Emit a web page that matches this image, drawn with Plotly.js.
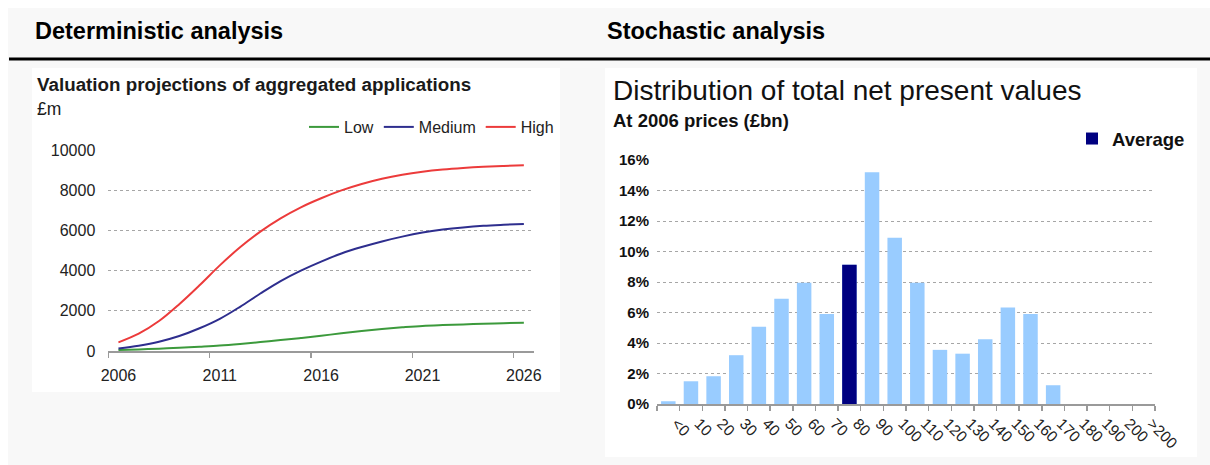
<!DOCTYPE html>
<html>
<head>
<meta charset="utf-8">
<script src="https://cdn.plot.ly/plotly-3.0.1.min.js"></script>
<style>
html, body { margin: 0; padding: 0; background: #ffffff; }
#chart { width: 1210px; height: 465px; }
</style>
</head>
<body>
<div id="chart"></div>
<script>
// ---------- data ----------
const years = [2006, 2007, 2008, 2009, 2010, 2011, 2012, 2013, 2014, 2015, 2016,
               2017, 2018, 2019, 2020, 2021, 2022, 2023, 2024, 2025, 2026];
const lowValues = [50, 80, 115, 165, 215, 270, 350, 445, 545, 645, 760,
                   880, 1000, 1100, 1180, 1250, 1290, 1320, 1355, 1385, 1400];
const mediumValues = [130, 265, 460, 745, 1130, 1600, 2200, 2860, 3480, 4000, 4450,
                      4850, 5170, 5450, 5690, 5890, 6040, 6150, 6230, 6280, 6320];
const highValues = [430, 860, 1490, 2330, 3270, 4260, 5160, 5940, 6600, 7150, 7600,
                    7990, 8310, 8570, 8770, 8920, 9030, 9110, 9170, 9210, 9240];
const yearTickValues = [2006, 2011, 2016, 2021, 2026];
const yearTickLabels = ['2006', '2011', '2016', '2021', '2026'];
const valueTickValues = [0, 2000, 4000, 6000, 8000, 10000];
const valueTickLabels = ['0', '2000', '4000', '6000', '8000', '10000'];

const npvCategories = ['<0', '10', '20', '30', '40', '50', '60', '70', '80', '90', '100',
                       '110', '120', '130', '140', '150', '160', '170', '180', '190', '200', '>200'];
const npvShares = [0.0018, 0.0149, 0.0182, 0.032, 0.0506, 0.069, 0.0795, 0.059, 0.0913, 0.152, 0.109,
                   0.0795, 0.0355, 0.033, 0.0425, 0.0633, 0.059, 0.0123, 0, 0, 0, 0];
const averageCategory = '80';
const shareTickValues = [0, 0.02, 0.04, 0.06, 0.08, 0.10, 0.12, 0.14, 0.16];

// ---------- helpers (pixel -> paper fraction) ----------
const W = 1210, H = 465;
const px = v => v / W;
const py = v => (H - v) / H;
const FONT = 'Arial, "Liberation Sans", sans-serif';

const avgIndex = npvCategories.indexOf(averageCategory);

const traces = [
  { type: 'scatter', mode: 'lines', name: 'Low', x: years, y: lowValues,
    line: { color: '#3c9a3c', width: 2, shape: 'spline' }, xaxis: 'x', yaxis: 'y', legend: 'legend' },
  { type: 'scatter', mode: 'lines', name: 'Medium', x: years, y: mediumValues,
    line: { color: '#2e2e8e', width: 2, shape: 'spline' }, xaxis: 'x', yaxis: 'y', legend: 'legend' },
  { type: 'scatter', mode: 'lines', name: 'High', x: years, y: highValues,
    line: { color: '#ec3b3b', width: 2, shape: 'spline' }, xaxis: 'x', yaxis: 'y', legend: 'legend' },
  { type: 'bar', name: 'Distribution', x: npvCategories, y: npvShares,
    marker: { color: '#99ccff' }, xaxis: 'x2', yaxis: 'y2', showlegend: false },
  { type: 'bar', name: 'Average', x: [averageCategory], y: [npvShares[avgIndex]],
    marker: { color: '#000080' }, xaxis: 'x2', yaxis: 'y2', legend: 'legend2' }
];

const gridStyle = { showgrid: true, gridcolor: '#a6a6a6', gridwidth: 1, griddash: 'dot' };

const layout = {
  width: W, height: H,
  margin: { l: 0, r: 0, t: 0, b: 0, pad: 0 },
  paper_bgcolor: '#ffffff',
  plot_bgcolor: 'rgba(0,0,0,0)',
  font: { family: FONT, color: '#000000' },
  barmode: 'overlay',
  bargap: 0.36,
  showlegend: true,
  xaxis: {
    domain: [px(108.3), px(534)],
    range: [2005.5, 2026.5],
    tickmode: 'array', tickvals: yearTickValues, ticktext: yearTickLabels,
    ticks: '', showgrid: false, zeroline: false,
    showline: true, linecolor: '#9a9a9a', linewidth: 1.5,
    minor: { tickmode: 'array', tickvals: [2005.5, 2010.5, 2015.5, 2020.5, 2025.5],
             ticks: 'outside', ticklen: 5, tickcolor: '#9a9a9a', tickwidth: 1.5, showgrid: false },
    tickfont: { size: 16, color: '#222222' },
    ticklabelstandoff: 9,
    anchor: 'y', fixedrange: true
  },
  yaxis: Object.assign({
    domain: [py(351), py(150)],
    range: [0, 10000],
    tickmode: 'array', tickvals: valueTickValues, ticktext: valueTickLabels,
    ticks: '', zeroline: false, showline: false,
    tickfont: { size: 16, color: '#222222' },
    ticklabelstandoff: 12,
    anchor: 'x', fixedrange: true
  }, gridStyle),
  xaxis2: {
    domain: [px(657), px(1155)],
    type: 'category',
    categoryorder: 'array', categoryarray: npvCategories,
    range: [-0.5, npvCategories.length - 0.5],
    tickmode: 'linear', tick0: 0, dtick: 1,
    tickson: 'boundaries',
    ticks: 'outside', ticklen: 5, tickcolor: '#9a9a9a', tickwidth: 1.5,
    showline: true, linecolor: '#9a9a9a', linewidth: 1.5,
    showgrid: false, zeroline: false,
    tickangle: 45,
    ticklabelshift: 8,
    ticklabelstandoff: 3,
    tickfont: { size: 15.5, color: '#222222' },
    anchor: 'y2', fixedrange: true
  },
  yaxis2: Object.assign({
    domain: [py(404), py(160)],
    range: [0, 0.16],
    tickmode: 'array', tickvals: shareTickValues,
    tickformat: '.0%',
    ticks: '', zeroline: false, showline: false,
    tickfont: { size: 15, color: '#111111', weight: 'bold' },
    ticklabelstandoff: 7,
    anchor: 'x2', fixedrange: true
  }, gridStyle),
  legend: {
    orientation: 'h', x: px(559), xanchor: 'right', y: py(127), yanchor: 'middle',
    bgcolor: 'rgba(0,0,0,0)', font: { size: 16, color: '#222222' },
    itemwidth: 30, traceorder: 'normal', tracegroupgap: 0
  },
  legend2: {
    orientation: 'h', x: px(1190), xanchor: 'right', y: py(139), yanchor: 'middle',
    bgcolor: 'rgba(0,0,0,0)', font: { size: 18.5, color: '#111111', weight: 'bold' },
    itemwidth: 30
  },
  shapes: [
    { type: 'rect', xref: 'paper', yref: 'paper', x0: px(8), x1: px(1210), y0: py(465), y1: py(8),
      fillcolor: '#f8f8f8', line: { width: 0 }, layer: 'below' },
    { type: 'rect', xref: 'paper', yref: 'paper', x0: px(32), x1: px(560), y0: py(392), y1: py(68),
      fillcolor: '#ffffff', line: { width: 0 }, layer: 'below' },
    { type: 'rect', xref: 'paper', yref: 'paper', x0: px(605), x1: px(1197), y0: py(457), y1: py(68),
      fillcolor: '#ffffff', line: { width: 0 }, layer: 'below' },
    { type: 'line', xref: 'paper', yref: 'paper', x0: px(9), x1: px(1210), y0: py(59), y1: py(59),
      line: { color: '#000000', width: 3 }, layer: 'below' }
  ],
  annotations: [
    { text: '<b>Deterministic analysis</b>', xref: 'paper', yref: 'paper', x: px(33), y: py(31),
      xanchor: 'left', yanchor: 'middle', showarrow: false, font: { size: 23.5, color: '#000000' } },
    { text: '<b>Stochastic analysis</b>', xref: 'paper', yref: 'paper', x: px(605), y: py(31),
      xanchor: 'left', yanchor: 'middle', showarrow: false, font: { size: 23.5, color: '#000000' } },
    { text: '<b>Valuation projections of aggregated applications</b>', xref: 'paper', yref: 'paper',
      x: px(35), y: py(84), xanchor: 'left', yanchor: 'middle', showarrow: false,
      font: { size: 18.8, color: '#1a1a1a' } },
    { text: '£m', xref: 'paper', yref: 'paper', x: px(35), y: py(109), xanchor: 'left', yanchor: 'middle',
      showarrow: false, font: { size: 17.5, color: '#1a1a1a' } },
    { text: 'Distribution of total net present values', xref: 'paper', yref: 'paper',
      x: px(611), y: py(91), xanchor: 'left', yanchor: 'middle', showarrow: false,
      font: { size: 28, color: '#111111' } },
    { text: '<b>At 2006 prices (£bn)</b>', xref: 'paper', yref: 'paper',
      x: px(611), y: py(120), xanchor: 'left', yanchor: 'middle', showarrow: false,
      font: { size: 18.5, color: '#111111' } }
  ]
};

Plotly.newPlot('chart', traces, layout, { displayModeBar: false, staticPlot: true });
</script>
</body>
</html>
